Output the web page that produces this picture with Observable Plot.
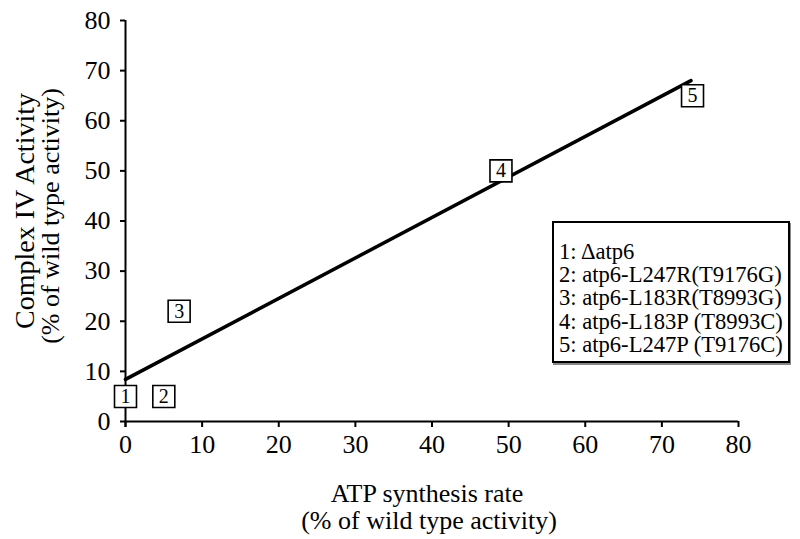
<!DOCTYPE html>
<html><head><meta charset="utf-8">
<script src="https://cdn.jsdelivr.net/npm/d3@7"></script>
<script src="https://cdn.jsdelivr.net/npm/@observablehq/plot@0.6"></script>
<style>
body{margin:0;background:#fff;}
#wrap{position:relative;width:800px;height:539px;font-family:"Liberation Serif","Times New Roman",serif;color:#000;}
#legend{position:absolute;left:552px;top:221px;width:238px;height:142px;box-sizing:border-box;border:2px solid #000;box-shadow:1px 2px 0 #888;background:#fff;padding:17px 0 0 5px;font-size:22.6px;line-height:23.2px;white-space:nowrap;}
</style></head><body><div id="wrap"></div>
<script>
const mutantIds = ["1", "2", "3", "4", "5"];
const atpRate = [0, 5, 7, 49, 74];
const complexIV = [5, 5, 22, 50, 65];
const fitX = [0, 73.8];
const fitY = [8.4, 68];
const xTicks = [0, 10, 20, 30, 40, 50, 60, 70, 80];
const yTicks = [0, 10, 20, 30, 40, 50, 60, 70, 80];
const legendLabels = ["1: \u0394atp6", "2: atp6-L247R(T9176G)", "3: atp6-L183R(T8993G)", "4: atp6-L183P (T8993C)", "5: atp6-L247P (T9176C)"];
const xTitleLines = ["ATP synthesis rate", "(% of wild type activity)"];
const yTitleLines = ["Complex IV Activity", "(% of wild type activity)"];

const points = mutantIds.map((id, i) => ({id, x: atpRate[i], y: complexIV[i]}));
const fit = fitX.map((x, i) => ({x, y: fitY[i]}));
const font = '"Liberation Serif","Times New Roman",serif';

const plot = Plot.plot({
  width: 800, height: 539,
  marginLeft: 125, marginRight: 62, marginTop: 20, marginBottom: 118,
  style: {fontFamily: font, fontSize: "26px", color: "#000", background: "#fff", overflow: "visible"},
  x: {domain: [0, 80]},
  y: {domain: [0, 80]},
  marks: [
    Plot.axisX({ticks: xTicks, tickSize: 6, tickPadding: 7.5, fontSize: 26, label: null, strokeWidth: 2}),
    Plot.axisY({ticks: yTicks, tickSize: 5, tickPadding: 10, fontSize: 26, label: null, strokeWidth: 2}),
    Plot.ruleY([0], {strokeWidth: 2}),
    Plot.ruleX([0], {strokeWidth: 2, insetBottom: -6}),
    Plot.line(fit, {x: "x", y: "y", stroke: "#000", strokeWidth: 3.5}),
    Plot.dot(points, {x: "x", y: "y", symbol: "square", r: 12.4, fill: "#fff", stroke: "#000", strokeWidth: 1.6}),
    Plot.text(points, {x: "x", y: "y", text: "id", fontSize: 20, fill: "#000"}),
    Plot.text([xTitleLines[0]], {text: d => d, frameAnchor: "bottom", textAnchor: "middle", lineAnchor: "bottom", dx: -5, dy: 80, fontSize: 26}),
    Plot.text([xTitleLines[1]], {text: d => d, frameAnchor: "bottom", textAnchor: "middle", lineAnchor: "bottom", dx: -3, dy: 107.5, fontSize: 26}),
    Plot.text([yTitleLines[0]], {text: d => d, frameAnchor: "left", textAnchor: "middle", lineAnchor: "bottom", rotate: -90, dx: -92, dy: -10, fontSize: 28}),
    Plot.text([yTitleLines[1]], {text: d => d, frameAnchor: "left", textAnchor: "middle", lineAnchor: "bottom", rotate: -90, dx: -67, dy: -5, fontSize: 26})
  ]
});
const wrap = document.getElementById("wrap");
wrap.appendChild(plot);
const legend = document.createElement("div");
legend.id = "legend";
legendLabels.forEach(t => { const row = document.createElement("div"); row.textContent = t; legend.appendChild(row); });
wrap.appendChild(legend);
</script></body></html>
